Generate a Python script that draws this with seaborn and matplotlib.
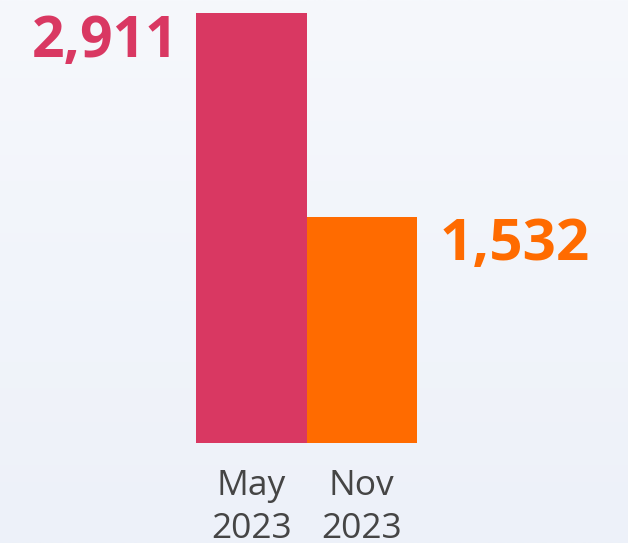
import numpy as np
import pandas as pd
import seaborn as sns
import matplotlib.pyplot as plt

# chart data
periods = ["May\n2023", "Nov\n2023"]
counts = [2911, 1532]
bar_colors = ["#d93862", "#ff6b00"]

sns.set_theme(style="white")
plt.rcParams['font.family'] = ['Open Sans', 'DejaVu Sans']

df = pd.DataFrame({"period": periods, "count": counts})

fig = plt.figure(figsize=(6.28, 5.43), dpi=100)

# soft vertical background gradient
bg = fig.add_axes([0, 0, 1, 1], zorder=0)
grad = np.linspace(0, 1, 256).reshape(-1, 1)
top = np.array([246, 248, 252]) / 255
bottom = np.array([237, 241, 249]) / 255
img = top + (bottom - top) * grad[:, :, None]
bg.imshow(img, aspect="auto", extent=[0, 1, 0, 1])
bg.axis("off")

W, H = 628, 543
ax = fig.add_axes([196 / W, 100 / H, 221 / W, 430 / H], zorder=1)
ax.patch.set_alpha(0)

sns.barplot(data=df, x="period", y="count", hue="period", palette=bar_colors,
            width=1.0, legend=False, saturation=1, linewidth=0, ax=ax)

ax.set_xlim(-0.5, 1.5)
ax.set_ylim(0, max(counts))
ax.set_xlabel("")
ax.set_ylabel("")
ax.set_yticks([])
sns.despine(ax=ax, left=True, bottom=True)
ax.tick_params(axis="x", length=0, pad=19, labelsize=25.5, labelcolor="#454545")
for lbl in ax.get_xticklabels():
    lbl.set_linespacing(1.35)

# value labels: first to the left, second to the right
ax.text(-0.66, counts[0], f"{counts[0]:,}", ha="right", va="top",
        fontsize=41, fontweight="bold", color=bar_colors[0])
ax.text(1.70, counts[1] * 0.875, f"{counts[1]:,}", ha="left", va="center",
        fontsize=42, fontweight="bold", color=bar_colors[1])

fig.savefig("out.png", dpi=100)
